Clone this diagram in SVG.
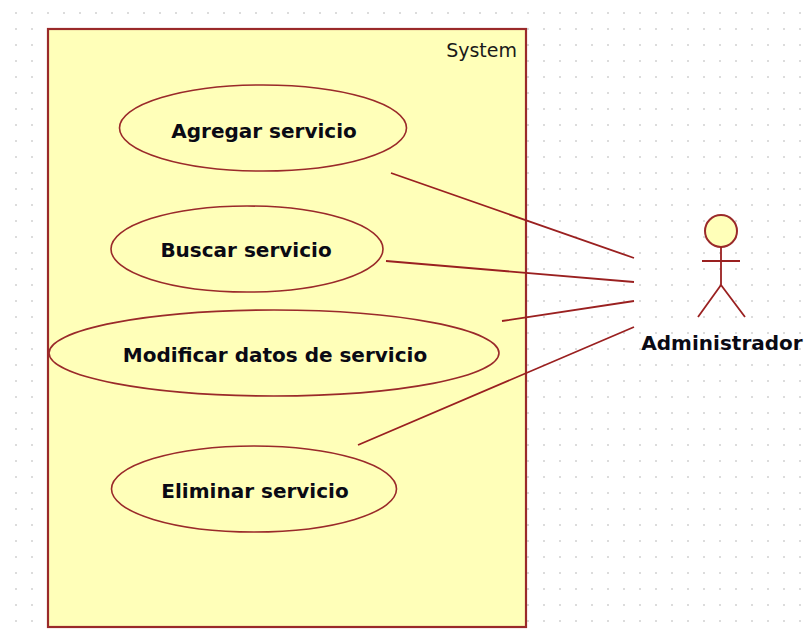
<svg xmlns="http://www.w3.org/2000/svg" width="810" height="632" viewBox="0 0 810 632">
<style>
.s{stroke:#9a2a2a;stroke-width:1.6;fill:#ffffb9}
.l{stroke:#9a2020;stroke-width:1.8;fill:none}
.t{font-family:"DejaVu Sans",sans-serif;font-weight:bold;font-size:20px;fill:#0a0a14;text-anchor:middle}
</style>
<defs><pattern id="g" x="0" y="13" width="16" height="16" patternUnits="userSpaceOnUse"><rect x="15" y="-1" width="2" height="2" fill="#dcdcdc"/><rect x="-1" y="-1" width="2" height="2" fill="#dcdcdc"/><rect x="15" y="15" width="2" height="2" fill="#dcdcdc"/><rect x="-1" y="15" width="2" height="2" fill="#dcdcdc"/></pattern></defs>
<rect width="810" height="632" fill="#fff"/>
<rect x="8" y="5" width="802" height="627" fill="url(#g)"/>
<g id="system"><rect class="s" x="48" y="29" width="478" height="598" style="stroke-width:2.2"/><text x="517" y="57" text-anchor="end" font-family="DejaVu Sans,sans-serif" font-size="19" fill="#1a1a1a">System</text></g>
<g id="agregar"><ellipse class="s" cx="263" cy="128" rx="143.500" ry="43"/><text class="t" x="264" y="138">Agregar servicio</text></g>
<g id="buscar"><ellipse class="s" cx="247" cy="249" rx="136" ry="43"/><text class="t" x="246" y="257">Buscar servicio</text></g>
<g id="modificar"><ellipse class="s" cx="274" cy="353" rx="225" ry="43"/><text class="t" x="275" y="362">Modificar datos de servicio</text></g>
<g id="eliminar"><ellipse class="s" cx="254" cy="489" rx="142.500" ry="43"/><text class="t" x="255" y="498">Eliminar servicio</text></g>
<g id="administrador"><circle class="s" cx="721" cy="231" r="16" style="stroke-width:2"/><path class="l" d="M721 247V285M702 261H740M721 285L698 317M721 285L745 317"/><text class="t" x="722" y="350">Administrador</text></g>
<g id="connectors"><path class="l" d="M391 173L634 258M386 261L634 282M502 321L634 301M358 445L634 327"/></g>
</svg>
